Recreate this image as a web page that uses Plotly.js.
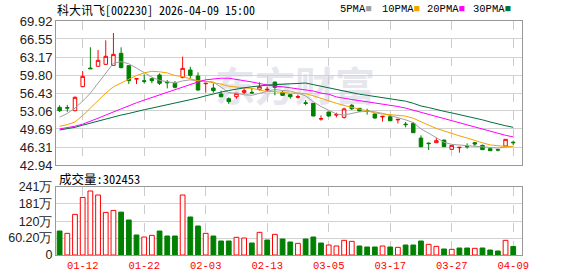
<!DOCTYPE html>
<html>
<head>
<meta charset="utf-8">
<script src="https://cdn.plot.ly/plotly-3.0.1.min.js"></script>
<style>html,body{margin:0;padding:0;background:#fff;}#chart{width:578px;height:276px;}</style>
</head>
<body>
<div id="chart"></div>
<script>
// ---- data ----
const dates = ['01-07','01-08','01-09','01-12','01-13','01-14','01-15','01-16','01-19','01-20',
  '01-21','01-22','01-23','01-26','01-27','01-28','01-29','01-30','02-02','02-03',
  '02-04','02-05','02-06','02-09','02-10','02-11','02-12','02-13','02-24','02-25',
  '02-26','02-27','03-02','03-03','03-04','03-05','03-06','03-09','03-10','03-11',
  '03-12','03-13','03-16','03-17','03-18','03-19','03-20','03-23','03-24','03-25',
  '03-26','03-27','03-30','03-31','04-01','04-02','04-03','04-07','04-08','04-09'];
const open  = [53.74,53.70,53.12,57.62,61.10,61.43,61.80,61.61,63.86,61.55,
  59.05,58.72,59.11,59.80,58.46,58.24,59.36,60.74,59.61,58.18,
  57.36,56.24,55.37,55.74,56.55,56.55,57.11,57.00,58.49,56.55,
  56.12,55.62,54.60,54.49,51.55,52.87,52.30,51.87,54.12,53.56,
  53.10,52.49,51.95,51.99,51.40,50.60,50.74,47.99,47.05,47.12,
  47.62,45.87,46.18,46.45,47.12,46.62,46.00,45.80,46.50,47.20];
const high  = [54.12,54.20,55.80,60.55,65.00,64.49,66.30,67.67,64.99,61.60,
  59.12,59.93,59.30,60.11,58.86,58.68,63.24,61.36,60.30,58.26,
  58.24,56.87,55.62,56.40,57.30,57.36,58.43,57.61,58.52,56.87,
  56.24,56.12,55.12,54.52,52.24,52.90,52.74,53.68,54.37,53.60,
  53.49,52.62,52.08,52.24,51.52,50.99,50.99,48.49,47.12,47.99,
  47.65,46.65,46.28,47.00,47.25,46.75,46.02,46.00,47.78,47.50];
const low   = [52.87,52.90,53.00,57.50,60.93,61.40,61.68,61.55,61.05,58.11,
  58.11,58.24,58.24,57.93,57.30,57.30,59.17,59.17,56.87,56.49,
  56.49,55.62,54.37,55.37,56.24,56.24,56.87,56.74,55.99,55.90,
  55.37,55.37,54.12,52.10,51.24,51.99,51.87,51.62,53.24,52.93,
  52.37,51.62,51.06,51.12,50.74,49.99,48.95,46.25,45.75,47.08,
  46.30,45.85,45.25,46.00,46.50,45.80,45.60,45.50,46.48,46.62];
const close = [53.12,53.60,55.62,59.55,60.98,62.55,63.30,63.67,61.18,58.74,
  59.11,58.62,58.74,58.24,58.36,57.49,61.05,59.74,56.99,58.24,
  56.87,55.74,54.81,56.37,56.87,56.45,57.61,57.11,57.49,55.99,
  55.74,55.74,54.49,52.12,51.62,52.12,52.37,53.45,53.48,53.06,
  53.00,51.74,52.06,51.24,51.49,50.50,48.99,46.37,46.95,47.50,
  46.37,46.62,46.25,46.37,46.87,45.81,45.62,45.75,47.75,47.12];
const ma5  = [51.9,52.6,53.6,54.9,56.4,58.3,60.3,62.0,62.3,61.9,
  61.1,60.3,59.4,58.8,58.6,58.3,58.7,58.9,58.7,58.6,
  58.5,57.5,56.5,56.4,56.1,56.0,56.4,56.8,57.1,56.9,
  56.8,56.4,55.9,54.8,53.9,53.2,52.5,52.3,52.6,52.9,
  53.0,52.9,52.6,52.2,51.9,51.4,50.9,49.7,48.9,48.0,
  47.2,46.8,46.7,46.6,46.5,46.4,46.2,46.1,46.3,46.4];
const ma10 = [50.2,50.5,51.0,52.2,53.6,55.0,56.4,57.6,58.3,59.1,
  59.7,60.2,60.5,60.4,60.2,59.7,59.5,59.1,58.7,58.6,
  58.4,58.1,57.7,57.5,57.4,57.3,57.0,56.7,56.7,56.5,
  56.4,56.4,56.3,55.9,55.4,55.0,54.5,54.1,53.7,53.4,
  53.1,52.7,52.5,52.4,52.3,52.1,51.7,51.0,50.4,49.8,
  49.3,48.8,48.4,48.0,47.5,47.1,46.7,46.5,46.4,46.4];
const ma20 = [49.7,49.9,50.2,50.6,51.1,51.7,52.3,52.9,53.5,54.1,
  54.6,55.1,55.6,56.1,56.6,57.1,57.6,58.1,58.5,58.9,
  59.1,59.2,59.2,59.0,58.8,58.5,58.2,57.9,57.7,57.6,
  57.4,57.3,57.1,56.8,56.4,56.2,55.7,55.4,55.2,55.0,
  54.8,54.6,54.4,54.2,53.9,53.6,53.2,52.8,52.4,52.0,
  51.6,51.2,50.8,50.4,50.0,49.6,49.2,48.8,48.5,48.2];
const ma30 = [49.5,49.7,50.0,50.4,50.8,51.2,51.6,52.0,52.3,52.6,
  53.0,53.3,53.6,53.9,54.2,54.5,54.9,55.2,55.5,55.9,
  56.3,56.6,56.9,57.2,57.4,57.6,57.8,57.9,58.0,58.1,
  58.2,58.3,58.3,58.0,57.7,57.4,57.0,56.7,56.4,56.2,
  56.0,55.8,55.5,55.3,55.1,54.9,54.5,54.0,53.7,53.3,
  53.0,52.7,52.4,52.0,51.7,51.4,51.0,50.6,50.3,50.0];
// volume in 万
const vol = [85,76.8,144,204,226.8,212.6,151,158,152,124,
  70.9,63.8,69.7,85,67.3,67.3,212.6,134.7,102.8,76.8,
  67.3,49.6,49.6,62.6,60.2,42.5,80.3,53.2,73.2,56.7,
  46.1,41.3,56.7,63.8,42.5,35.4,31.9,52,48.4,31.9,
  28.4,28.4,31.9,28.4,27.2,35.4,35.4,49.6,37.8,30.7,
  21.3,20.1,24.8,24.8,23.6,24.8,17.7,14.2,52,30.25];
const volDir = ['g','r','r','r','r','r','r','r','g','g',
  'g','r','r','g','g','g','r','g','g','r',
  'g','g','g','r','r','g','r','g','r','g',
  'g','r','g','g','g','r','r','r','r','g',
  'g','g','r','g','r','g','g','g','r','r',
  'g','r','g','g','r','g','g','g','r','g'];
const priceTicks = [42.94,46.31,49.69,53.06,56.43,59.80,63.17,66.55,69.92];
const volTicks = [0,60.2,120,181,241];
const volTickText = ['0','60.20万','120万','181万','241万'];
const dateTicks = ['01-12','01-22','02-03','02-13','03-05','03-17','03-27','04-09'];
const titleText = '科大讯飞[002230] 2026-04-09 15:00';
const volLabel = '成交量:302453';
const maNames = ['5PMA','10PMA','20PMA','30PMA'];

// ---- styles ----
const RED = '#ff0000', GREEN = '#008000';
const maColors = ['#a0a0a0','#f5a200','#ff00ff','#006f3a'];
const maData = [ma5, ma10, ma20, ma30];

const traces = [];
maData.forEach((m, k) => {
  traces.push({type:'scatter', mode:'lines', x:dates, y:m, xaxis:'x', yaxis:'y',
    line:{color:maColors[k], width:1}, hoverinfo:'skip'});
});
traces.push({
  type:'candlestick', x:dates, open:open, high:high, low:low, close:close,
  xaxis:'x', yaxis:'y', whiskerwidth:0,
  increasing:{line:{color:RED, width:1}, fillcolor:'#ffffff'},
  decreasing:{line:{color:GREEN, width:1}, fillcolor:GREEN},
  hoverinfo:'skip'
});
traces.push({
  type:'bar', x:dates, y:vol, xaxis:'x', yaxis:'y2', width:0.62,
  marker:{color:volDir.map(d => d==='r' ? '#ffffff' : GREEN),
          line:{color:volDir.map(d => d==='r' ? RED : GREEN), width:1}},
  hoverinfo:'skip'
});

const L = 56, R = 56, T = 21, B = 21, W = 578, H = 276;
const pw = W - L - R, ph = H - T - B;
const px2x = p => (p - L) / pw;
const py2y = p => (H - B - p) / ph;

const annotations = [
  {text:titleText, xref:'paper', yref:'paper', x:px2x(55), y:py2y(9.5), xanchor:'left', yanchor:'middle',
   showarrow:false, font:{family:'Noto Sans Mono CJK SC, Noto Sans CJK SC', size:12, color:'#000'}},
  {text:volLabel, xref:'paper', yref:'paper', x:px2x(57), y:py2y(178), xanchor:'left', yanchor:'middle',
   showarrow:false, font:{family:'Noto Sans Mono CJK SC, Noto Sans CJK SC', size:12.5, color:'#000'}}
];
const legendX = [338, 380, 425, 471];
maNames.forEach((n, k) => {
  annotations.push({text:n + '<span style="color:' + maColors[k] + '">■</span>', xref:'paper', yref:'paper',
    x:px2x(legendX[k]), y:py2y(9), xanchor:'left', yanchor:'middle', showarrow:false,
    font:{family:'Liberation Mono, DejaVu Sans Mono', size:10.5, color:'#000'}});
});

const layout = {
  width:W, height:H, margin:{l:L, r:R, t:T, b:B, pad:0},
  paper_bgcolor:'#fff', plot_bgcolor:'#fff', showlegend:false, hovermode:false,
  boxgap:0.35,
  xaxis:{type:'category', categoryorder:'array', categoryarray:dates,
    range:[-0.47, 60.14], anchor:'y2', tickmode:'array', tickvals:dateTicks, ticktext:dateTicks,
    tickfont:{family:'Liberation Mono, DejaVu Sans Mono', size:10.5, color:RED},
    ticks:'', showgrid:true, gridcolor:'#cccccc', griddash:'dash', gridwidth:1,
    showline:true, linecolor:'#999', linewidth:1, mirror:'all',
    rangeslider:{visible:false}, zeroline:false, fixedrange:true},
  yaxis:{domain:[(H-B-165)/ph, 1], range:[42.94, 69.92], tickmode:'array', tickvals:priceTicks,
    ticktext:priceTicks.map(v => v.toFixed(2)),
    tickfont:{family:'Liberation Sans, Arial', size:13, color:'#222'},
    ticks:'', showgrid:true, gridcolor:'#d2d2d2', gridwidth:1,
    showline:true, linecolor:'#999', linewidth:1, mirror:true, zeroline:false, fixedrange:true},
  yaxis2:{domain:[0, (H-B-187)/ph], range:[0, 241], tickmode:'array', tickvals:volTicks, ticktext:volTickText,
    tickfont:{family:'Liberation Sans, Arial', size:12.5, color:'#222'},
    ticks:'', showgrid:true, gridcolor:'#d2d2d2', gridwidth:1,
    showline:true, linecolor:'#999', linewidth:1, mirror:true, zeroline:false, fixedrange:true},
  annotations:annotations,
  shapes:[{type:'rect', xref:'paper', yref:'paper', x0:px2x(205), x1:px2x(385), y0:py2y(112), y1:py2y(68),
    line:{width:0}, fillcolor:'rgba(0,0,0,0)', layer:'below',
    label:{text:'东方财富', textposition:'middle center',
      font:{family:'Noto Sans CJK SC', size:40, color:'#e6e6ee', weight:'bold'}}}]
};

Plotly.newPlot('chart', traces, layout, {staticPlot:true, displayModeBar:false});
</script>
</body>
</html>
